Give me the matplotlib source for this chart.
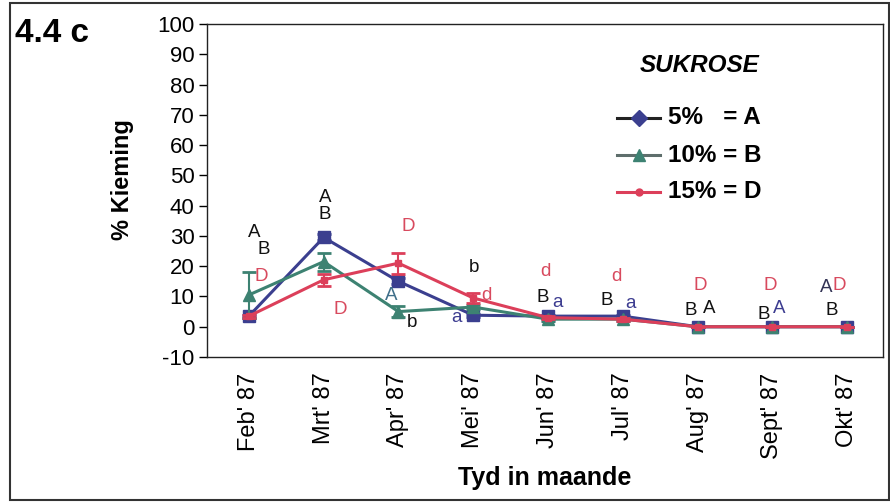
import matplotlib
matplotlib.use("Agg")
import matplotlib.pyplot as plt
from matplotlib.lines import Line2D
from matplotlib.patches import Rectangle
import numpy as np

plt.rcParams['font.family'] = ['Liberation Sans', 'DejaVu Sans']

months = ["Feb' 87", "Mrt' 87", "Apr' 87", "Mei' 87", "Jun' 87",
          "Jul' 87", "Aug' 87", "Sept' 87", "Okt' 87"]

# Germination (%) per sucrose concentration
sucrose_5 = [3.5, 29.5, 15.0, 3.8, 3.5, 3.5, 0.0, 0.0, 0.0]
sucrose_10 = [10.5, 21.5, 5.0, 6.5, 2.5, 2.5, 0.0, 0.0, 0.0]
sucrose_15 = [3.5, 15.5, 21.0, 9.5, 3.0, 2.5, 0.0, 0.0, 0.0]

err_5 = [0.5, 1.0, 1.0, 0.5, 0.5, 0.5, 0.0, 0.0, 0.0]
err_10 = [7.5, 3.0, 1.7, 0.8, 0.5, 0.5, 0.0, 0.0, 0.0]
err_15 = [0.5, 2.0, 3.5, 1.5, 0.5, 0.5, 0.0, 0.0, 0.0]

series_labels = ["5%   = A", "10% = B", "15% = D"]

yticks = list(range(-10, 101, 10))

# Significance letters: (month index, x shift, y, letter, colour)
letters = [
    (0, 0.07, 31.1, "A", "#111111"), (0, 0.20, 25.4, "B", "#111111"),
    (0, 0.17, 16.5, "D", "#d84a5e"),
    (1, 0.02, 42.8, "A", "#111111"), (1, 0.02, 37.0, "B", "#111111"),
    (1, 0.22, 5.6, "D", "#d84a5e"),
    (2, 0.13, 33.0, "D", "#d84a5e"), (2, -0.09, 10.2, "A", "#3f6f8a"),
    (2, 0.18, 1.3, "b", "#111111"),
    (3, 0.01, 19.5, "b", "#111111"), (3, 0.18, 10.2, "d", "#d84a5e"),
    (3, -0.23, 3.2, "a", "#3c3c90"),
    (4, -0.03, 18.2, "d", "#d84a5e"), (4, -0.07, 9.5, "B", "#111111"),
    (4, 0.13, 7.9, "a", "#3c3c90"),
    (5, -0.08, 16.5, "d", "#d84a5e"), (5, -0.22, 8.5, "B", "#111111"),
    (5, 0.11, 7.6, "a", "#3c3c90"),
    (6, 0.03, 13.5, "D", "#d84a5e"), (6, -0.09, 5.2, "B", "#111111"),
    (6, 0.15, 5.9, "A", "#111111"),
    (7, -0.03, 13.5, "D", "#d84a5e"), (7, -0.12, 4.2, "B", "#111111"),
    (7, 0.09, 5.9, "A", "#3c3c90"),
    (8, -0.28, 12.9, "A", "#333355"), (8, -0.11, 13.5, "D", "#d84a5e"),
    (8, -0.20, 5.2, "B", "#111111"),
]

c5 = "#3b3f8f"
c10 = "#3d8272"
c15 = "#dc3f5a"

W, H = 890, 503
AX_L, AX_R, AX_T, AX_B = 207, 883, 24, 357

fig = plt.figure(figsize=(W / 100, H / 100), dpi=100)
ax = fig.add_axes([AX_L / W, 1 - AX_B / H, (AX_R - AX_L) / W, (AX_B - AX_T) / H])


def axfrac(px, py):
    return (px - AX_L) / (AX_R - AX_L), (AX_B - py) / (AX_B - AX_T)


x = np.arange(len(months))

ax.errorbar(x, sucrose_5, yerr=err_5, color=c5, marker="s", markersize=8,
            linewidth=2.2, capsize=5, elinewidth=1.5, capthick=2, zorder=3)
ax.errorbar(x, sucrose_10, yerr=err_10, color=c10, marker="^", markersize=9,
            linewidth=2.2, capsize=5, elinewidth=1.5, capthick=2, zorder=4)
ax.errorbar(x, sucrose_15, yerr=err_15, color=c15, marker="s", markersize=5,
            linewidth=2.2, capsize=5, elinewidth=1.5, capthick=2, zorder=5)

for i, dx, yv, s, col in letters:
    ax.text(x[i] + dx, yv, s, color=col, fontsize=13.5, ha="center",
            va="center", zorder=6)

ax.set_xlim(-0.56, 8.48)
ax.set_ylim(-10, 100)
ax.set_yticks(yticks)
ax.set_yticklabels([str(v) for v in yticks], fontsize=16)
ax.set_xticks(x)
ax.set_xticklabels(months, rotation=90, fontsize=17)
ax.tick_params(axis="x", length=0, pad=11)
ax.tick_params(axis="y", direction="out", length=6, width=1, pad=3)
for sp in ax.spines.values():
    sp.set_linewidth(1.0)
    sp.set_color("#222222")

ax.set_ylabel("% Kieming", fontsize=17, fontweight="bold", va="center")
ax.yaxis.set_label_coords(*axfrac(122, 180))
ax.set_xlabel("Tyd in maande", fontsize=18, fontweight="bold", va="center")
ax.xaxis.set_label_coords(*axfrac(545, 478))

# Legend block
ax.text(*axfrac(700, 65), "SUKROSE", transform=ax.transAxes, fontsize=17.5,
        fontweight="bold", fontstyle="italic", ha="center", va="center")
handle_styles = [
    dict(color="#222222", mfc=c5, mec=c5, marker="D", ms=8),
    dict(color="#5e6e6c", mfc=c10, mec=c10, marker="^", ms=9),
    dict(color=c15, mfc=c15, mec=c15, marker="o", ms=5),
]
for k, (lab, st) in enumerate(zip(series_labels, handle_styles)):
    py = 118 + 37 * k
    x0, y0 = axfrac(617, py)
    x1, _ = axfrac(660, py)
    xm, _ = axfrac(639, py)
    ax.add_line(Line2D([x0, x1], [y0, y0], transform=ax.transAxes,
                       color=st["color"], linewidth=2.2, zorder=6))
    ax.add_line(Line2D([xm], [y0], transform=ax.transAxes, marker=st["marker"],
                       markersize=st["ms"], markerfacecolor=st["mfc"],
                       markeredgecolor=st["mec"], linestyle="none", zorder=7))
    ax.text(*axfrac(668, py), lab, transform=ax.transAxes, fontsize=17.5,
            fontweight="bold", ha="left", va="center")

fig.text(15 / W, 1 - 33 / H, "4.4 c", fontsize=24, fontweight="bold",
         ha="left", va="center")

fig.patches.append(Rectangle((10 / W, 1 - 500 / H), (889 - 10) / W,
                             (500 - 3) / H, transform=fig.transFigure,
                             fill=False, edgecolor="#333333", linewidth=1.5))

fig.savefig("out.png", dpi=100)
